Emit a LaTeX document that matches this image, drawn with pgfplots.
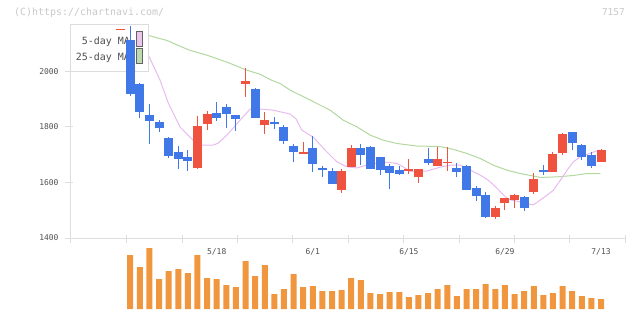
\documentclass[border=0pt]{standalone}
\usepackage{pgfplots}
\usepackage{pgfplotstable}
\pgfplotsset{compat=1.18}
\usepackage{fontspec}
\setmainfont{DejaVu Sans Mono}
\definecolor{cblue}{RGB}{64,120,232}
\definecolor{cred}{RGB}{240,82,64}
\definecolor{cvol}{RGB}{240,150,62}
\definecolor{mafivec}{RGB}{232,186,240}
\definecolor{matwfc}{RGB}{178,216,160}
\definecolor{axgray}{RGB}{222,222,222}
\definecolor{lblgray}{RGB}{80,80,80}
\definecolor{wmgray}{RGB}{200,200,200}
\definecolor{lgpink}{RGB}{236,196,236}
\definecolor{lggreen}{RGB}{188,220,176}
\definecolor{lgborder}{RGB}{220,220,220}
\definecolor{lgbox}{RGB}{100,100,100}

% up (red) candles: index open high low close
\pgfplotstableread{
i o h l c
7 1653 1838 1649 1802
8 1811 1857 1789 1846
12 1954 2010 1908 1964
14 1807 1853 1775 1824
18 1705 1745 1705 1707
22 1572 1648 1563 1641
23 1655 1734 1655 1723
29 1644 1684 1631 1648
30 1620 1648 1599 1648
32 1660 1727 1660 1684
33 1671 1727 1642 1674
38 1477 1515 1469 1509
39 1527 1544 1502 1544
40 1538 1558 1509 1555
42 1566 1634 1559 1612
44 1638 1709 1638 1702
45 1706 1777 1699 1774
49 1674 1720 1674 1716
}\upc

% down (blue) candles
\pgfplotstableread{
i o h l c
0 2111 2163 1910 1917
1 1953 1958 1832 1854
2 1842 1881 1738 1821
3 1817 1824 1782 1796
4 1760 1764 1689 1695
5 1709 1731 1649 1683
6 1691 1716 1642 1678
9 1849 1888 1821 1832
10 1871 1881 1796 1847
11 1842 1842 1785 1829
13 1935 1939 1830 1832
15 1819 1834 1792 1811
16 1799 1806 1738 1750
17 1731 1738 1674 1710
19 1723 1766 1638 1667
20 1652 1659 1620 1644
21 1641 1652 1595 1595
24 1723 1738 1662 1699
25 1727 1731 1649 1649
26 1691 1691 1627 1645
27 1659 1666 1577 1635
28 1644 1659 1627 1631
31 1684 1723 1663 1671
34 1652 1671 1620 1638
35 1659 1662 1574 1574
36 1580 1587 1534 1552
37 1554 1565 1473 1477
41 1547 1551 1498 1509
43 1644 1662 1626 1638
46 1781 1781 1717 1742
47 1734 1738 1681 1692
48 1698 1709 1653 1660
}\downc

\pgfplotstableread{
x y
0.00 2120
1.85 2061
3.10 1968
3.97 1885
5.19 1799
6.02 1770
6.54 1752
7.48 1734
8.62 1734
9.14 1741
10.05 1770
11.44 1824
12.48 1864
13.52 1864
14.87 1860
16.64 1846
17.27 1828
17.86 1788
19.04 1763
20.29 1716
21.51 1674
22.55 1656
23.59 1652
24.98 1666
26.72 1673
27.76 1668
28.41 1656
29.14 1639
30.88 1641
32.27 1655
33.31 1662
34.35 1662
35.39 1644
36.44 1626
37.27 1608
38.18 1579
39.04 1548
39.56 1537
40.60 1530
41.44 1522
41.96 1519
42.69 1537
43.38 1554
44.04 1572
44.77 1608
45.47 1644
46.12 1674
46.85 1692
47.89 1705
48.62 1714
48.91 1716
}\mafive

\pgfplotstableread{
x y
0.00 2144
1.88 2129
3.80 2111
5.19 2090
6.23 2075
7.97 2058
10.05 2033
12.13 2004
13.52 1989
14.56 1970
15.60 1956
16.64 1932
17.69 1914
18.73 1896
20.81 1860
22.16 1824
23.59 1800
24.98 1770
26.33 1752
27.76 1740
29.84 1731
32.27 1729
33.62 1719
35.05 1704
36.44 1686
37.79 1662
39.22 1644
40.60 1632
41.96 1623
42.69 1618
44.43 1620
46.12 1625
47.55 1632
48.94 1632
}\matwf

\pgfplotstableread{
i v
0 54000
1 42000
2 61000
3 30000
4 38000
5 40000
6 36000
7 54000
8 31000
9 30000
10 24000
11 22000
12 48000
13 33000
14 44000
15 15000
16 20000
17 35000
18 22000
19 23000
20 18000
21 18000
22 19000
23 31000
24 29000
25 16000
26 15000
27 17000
28 17000
29 12000
30 14000
31 16000
32 20000
33 24000
34 13000
35 20000
36 20000
37 25000
38 20000
39 24000
40 15000
41 18000
42 23000
43 14000
44 16000
45 23000
46 18000
47 13000
48 11000
49 10000
}\volume

\begin{document}
\begin{tikzpicture}[x=1bp,y=1bp]
\useasboundingbox (0,0) rectangle (640,311);
\node[anchor=base west, inner sep=0, text=wmgray, font=\fontsize{10}{10}\selectfont] at (14,296) {(C)https://chartnavi.com/};
\node[anchor=base east, inner sep=0, text=wmgray, font=\fontsize{9.5}{9.5}\selectfont] at (625,296) {7157};

% volume panel
\begin{axis}[
  at={(70bp,2bp)}, anchor=south west,
  scale only axis, width=555.5bp, height=66bp,
  xmin=-6.27, xmax=51.55, ymin=0, ymax=66000,
  hide axis,
]
\addplot[ybar, bar width=6bp, fill=cvol, draw=none] table[x=i, y=v] {\volume};
\end{axis}

% price panel
\begin{axis}[
  at={(70bp,73bp)}, anchor=south west,
  scale only axis, width=555.5bp, height=214bp,
  xmin=-6.27, xmax=51.55, ymin=1400, ymax=2170,
  axis x line=bottom, axis y line=left,
  axis line style={draw=axgray, line width=1bp, -},
  tick align=center, major tick length=8bp,
  tick style={draw=axgray, line width=1bp},
  xtick style={yshift=-1bp}, ytick style={xshift=-1bp},
  xtick={-6.27,-0.37,5.40,11.16,16.93,22.69,28.45,34.22,39.98,45.75,51.51},
  xticklabels={},
  ytick={1400,1600,1800,2000},
  yticklabel style={xshift=-4bp},
  extra x ticks={9,19,29,39,49},
  extra x tick labels={5/18,6/1,6/15,6/29,7/13},
  extra x tick style={major tick length=0pt, xticklabel style={anchor=center, yshift=-14bp}},
  tick label style={font=\fontsize{8}{8}\selectfont, text=lblgray},
  /pgf/number format/assume math mode=true,
  /pgf/number format/1000 sep={},
]
% moving averages
\addplot[matwfc, line width=1bp] table[x=x, y=y] {\matwf};
\addplot[mafivec, line width=1bp] table[x=x, y=y] {\mafive};

% legend box
\draw[draw=lgborder, fill=white, line width=1bp] (rel axis cs:0,1) rectangle ([shift={(78bp,-47bp)}]rel axis cs:0,1);
\draw[cred, line width=1bp] ([shift={(46bp,-5bp)}]rel axis cs:0,1) -- ([shift={(55bp,-5bp)}]rel axis cs:0,1);
\node[anchor=base east, inner sep=0, font=\fontsize{10}{10}\selectfont, text=lblgray] at ([shift={(60bp,-20bp)}]rel axis cs:0,1) {5-day MA};
\node[anchor=base east, inner sep=0, font=\fontsize{10}{10}\selectfont, text=lblgray] at ([shift={(60bp,-36.7bp)}]rel axis cs:0,1) {25-day MA};
\draw[draw=lgbox, fill=lgpink, line width=1bp] ([shift={(66.5bp,-7.5bp)}]rel axis cs:0,1) rectangle ([shift={(72.5bp,-22.5bp)}]rel axis cs:0,1);
\draw[draw=lgbox, fill=lggreen, line width=1bp] ([shift={(66.5bp,-24.5bp)}]rel axis cs:0,1) rectangle ([shift={(72.5bp,-39bp)}]rel axis cs:0,1);

% candles: wicks and bodies
\addplot[draw=none, no marks, error bars/.cd, y dir=both, y explicit, error mark=none,
  error bar style={draw=cred, line width=1bp}]
  table[x=i, y expr=(\thisrow{h}+\thisrow{l})/2, y error expr=(\thisrow{h}-\thisrow{l})/2] {\upc};
\addplot[draw=none, no marks, error bars/.cd, y dir=both, y explicit, error mark=none,
  error bar style={draw=cred, line width=9bp}]
  table[x=i, y expr=(\thisrow{o}+\thisrow{c})/2, y error expr={max(abs(\thisrow{c}-\thisrow{o})/2,1.8)}] {\upc};
\addplot[draw=none, no marks, error bars/.cd, y dir=both, y explicit, error mark=none,
  error bar style={draw=cblue, line width=1bp}]
  table[x=i, y expr=(\thisrow{h}+\thisrow{l})/2, y error expr=(\thisrow{h}-\thisrow{l})/2] {\downc};
\addplot[draw=none, no marks, error bars/.cd, y dir=both, y explicit, error mark=none,
  error bar style={draw=cblue, line width=9bp}]
  table[x=i, y expr=(\thisrow{o}+\thisrow{c})/2, y error expr={max(abs(\thisrow{c}-\thisrow{o})/2,1.8)}] {\downc};
\end{axis}
\end{tikzpicture}
\end{document}
